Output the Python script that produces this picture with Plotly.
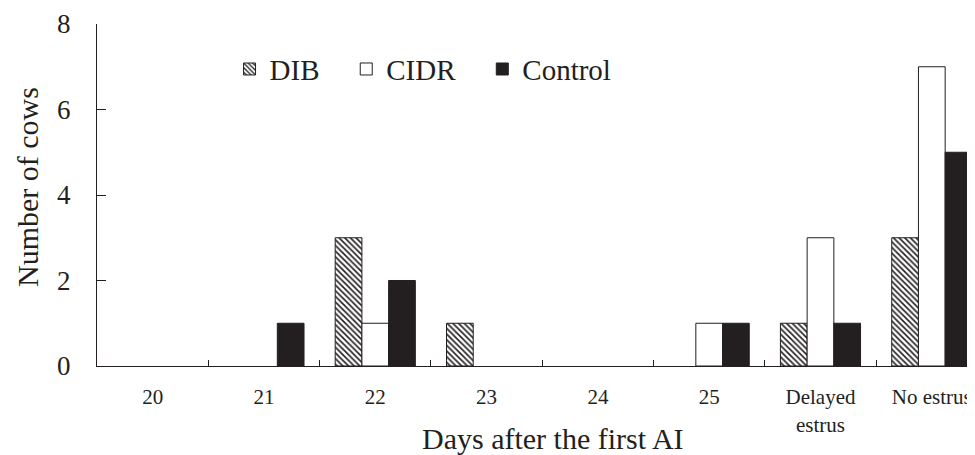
import plotly.graph_objects as go

categories = ["20", "21", "22", "23", "24", "25", "Delayed<br>estrus", "No estrus"]
dib = [0, 0, 3, 1, 0, 0, 1, 3]
cidr = [0, 0, 1, 0, 0, 1, 3, 7]
control = [0, 1, 2, 0, 0, 1, 1, 5]
y_ticks = [0, 2, 4, 6, 8]

INK = "#231f20"
FONT = "Liberation Serif"
NB = "\u00a0" * 3


def nz(vals):
    return [v if v else None for v in vals]


fig = go.Figure()
fig.add_trace(go.Bar(
    x=categories, y=nz(dib), name="DIB" + NB,
    marker=dict(color="white", line=dict(color=INK, width=1),
                pattern=dict(shape="\\", fgcolor=INK, bgcolor="white",
                             size=4, solidity=0.4, fillmode="replace")),
))
fig.add_trace(go.Bar(
    x=categories, y=nz(cidr), name="CIDR" + NB,
    marker=dict(color="white", line=dict(color=INK, width=1)),
))
fig.add_trace(go.Bar(
    x=categories, y=nz(control), name="Control",
    marker=dict(color=INK, line=dict(color=INK, width=1)),
))

# page body has an 8px margin; plot area laid out to land at x=97..(983), y=24..366
W = 886.0
H = 342.0

fig.update_layout(
    width=975, height=455,
    margin=dict(l=89, r=0, t=16, b=97),
    paper_bgcolor="white", plot_bgcolor="white",
    barmode="group", bargap=0.28, bargroupgap=0,
    font=dict(family=FONT, color=INK),
    legend=dict(orientation="h", x=0.1496, y=0.868, xanchor="left", yanchor="middle",
                font=dict(size=29, family=FONT, color=INK), bgcolor="rgba(0,0,0,0)",
                itemclick=False),
    xaxis=dict(
        type="category", range=[-0.5, 7.46],
        showline=True, linecolor=INK, linewidth=1,
        tickson="boundaries", ticks="inside", ticklen=6, tickcolor=INK, tickwidth=1,
        showgrid=False, zeroline=False,
        tickfont=dict(size=21, family=FONT, color=INK),
        ticklabelstandoff=12,
    ),
    yaxis=dict(
        range=[0, 8], tickvals=y_ticks,
        showline=True, linecolor=INK, linewidth=1,
        ticks="inside", ticklen=9, tickcolor=INK,
        showgrid=False, zeroline=False,
        tickfont=dict(size=27, family=FONT, color=INK),
        ticklabelstandoff=20,
    ),
    annotations=[
        dict(text="Number of cows", xref="paper", yref="paper",
             x=(27 - 97) / W, y=(366 - 187) / H, textangle=-90, showarrow=False,
             xanchor="center", yanchor="middle",
             font=dict(size=30, family=FONT, color=INK)),
        dict(text="Days after the first AI", xref="paper", yref="paper",
             x=(553 - 97) / W, y=(366 - 438) / H, showarrow=False,
             xanchor="center", yanchor="middle",
             font=dict(size=30, family=FONT, color=INK)),
    ],
)

fig.write_html("out.html")
